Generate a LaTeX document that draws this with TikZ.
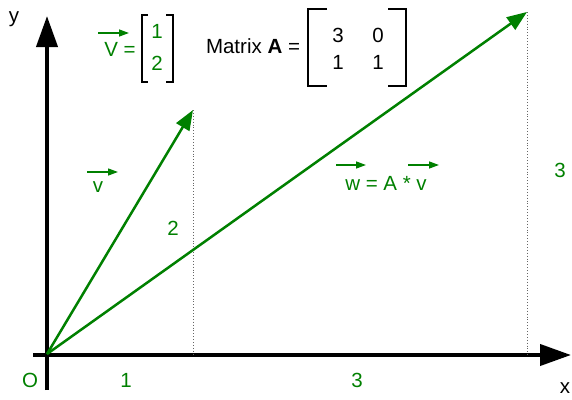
\documentclass[tikz,border=0pt]{standalone}
\usepackage{fontspec}
\setmainfont{Liberation Sans}
\usetikzlibrary{arrows.meta}
\definecolor{vgreen}{RGB}{0,128,0}
\begin{document}
\begin{tikzpicture}[x=1pt,y=-1pt,
  lbl/.style={font=\fontsize{20.5}{22}\selectfont, inner sep=0pt},
  glbl/.style={lbl, text=vgreen},
  axis/.style={line width=4pt, -{Triangle[length=31pt,width=21pt]}},
  vec/.style={vgreen, line width=2.5pt, -{Triangle[length=20pt,width=15pt]}},
  overarrow/.style={vgreen, line width=1.3pt, -{Triangle[length=10pt,width=7pt]}},
  drop/.style={black!60, line width=0.9pt, dotted},
  brk/.style={black, line width=2pt}
]
\useasboundingbox (0,0) rectangle (572,399);
% axes
\coordinate (O) at (47,354);
\coordinate (ybot) at (47,390);
\coordinate (ytop) at (47,16);
\coordinate (xleft) at (33,355);
\coordinate (xright) at (571,355);
\draw[axis] (ybot) -- (ytop);
\draw[axis] (xleft) -- (xright);
\node[lbl] (ylab) at (14,19) {y};
\node[lbl] (xlab) at (565,388) {x};
% vectors
\coordinate (vt) at (193,110);
\coordinate (wt) at (527,12);
\draw[drop] (vt) -- (vt |- xleft);
\draw[drop] (wt) -- (wt |- xleft);
\draw[vec] (O) -- (vt);
\draw[vec] (O) -- (wt);
% axis labels
\node[glbl] (olab) at (30,380) {O};
\node[glbl] (one) at (126,380) {1};
\node[glbl] (three) at (357,380) {3};
\node[glbl] (two) at (173,228) {2};
\node[glbl] (threey) at (560,170) {3};
% v label
\node[glbl] (vlab) at (98,187) {v};
\coordinate (va1) at (87,172); \coordinate (va2) at (118,172);
\draw[overarrow] (va1) -- (va2);
% w = A * v
\node[glbl] (wlab) at (386,183) {w = A * v};
\coordinate (wa1) at (336,165); \coordinate (wa2) at (366,165);
\coordinate (wb1) at (408,165); \coordinate (wb2) at (439,165);
\draw[overarrow] (wa1) -- (wa2);
\draw[overarrow] (wb1) -- (wb2);
% V = [1;2]
\node[glbl] (Vlab) at (120,49) {V =};
\coordinate (Va1) at (98,33); \coordinate (Va2) at (129,33);
\draw[overarrow] (Va1) -- (Va2);
\draw[brk] (148,15) -- (142,15) -- (142,82) -- (148,82);
\draw[brk] (166,15) -- (173,15) -- (173,82) -- (166,82);
\node[glbl] (v1) at (157,31) {1};
\node[glbl] (v2) at (157,63) {2};
% Matrix A
\node[lbl] (mlab) at (253,46) {Matrix \textbf{A} =};
\draw[brk] (327,9) -- (308,9) -- (308,86) -- (327,86);
\draw[brk] (388,9) -- (406,9) -- (406,86) -- (388,86);
\node[lbl] (a11) at (338,35) {3};
\node[lbl] (a12) at (378,35) {0};
\node[lbl] (a21) at (338,62) {1};
\node[lbl] (a22) at (378,62) {1};
\end{tikzpicture}
\end{document}
